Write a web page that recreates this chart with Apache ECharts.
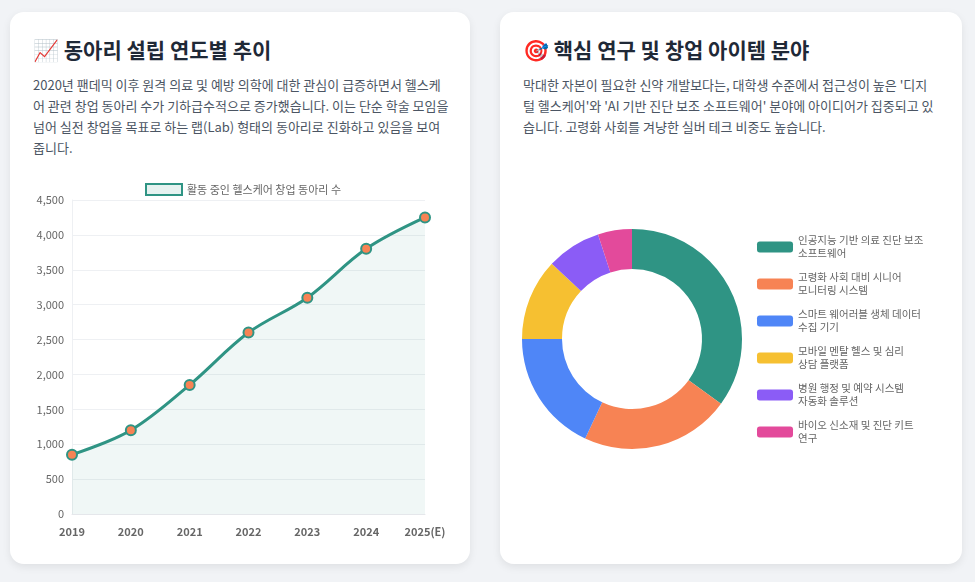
<!DOCTYPE html>
<html><head><meta charset="utf-8">
<script src="https://cdn.jsdelivr.net/npm/echarts@6/dist/echarts.min.js"></script>
<style>
body{margin:0;width:975px;height:582px;background:#f1f3f6;font-family:"Noto Sans CJK KR","Noto Sans",sans-serif;position:relative;overflow:hidden}
.card{position:absolute;background:#fff;border-radius:14px;box-shadow:0 3px 8px rgba(0,0,0,0.08)}
h2{position:absolute;margin:0;font-size:21px;font-weight:700;color:#1f2937}
p{position:absolute;margin:0;font-size:13px;line-height:21px;color:#4b5563;word-break:break-all}
#c{position:absolute;left:0;top:0;width:975px;height:582px}
</style></head><body>
<div class="card" style="left:10px;top:12px;width:460px;height:552px"></div>
<div class="card" style="left:500px;top:12px;width:462px;height:552px"></div>
<h2 style="left:33px;top:34px">📈 동아리 설립 연도별 추이</h2>
<p style="left:33px;top:74px;width:418px">2020년 팬데믹 이후 원격 의료 및 예방 의학에 대한 관심이 급증하면서 헬스케어 관련 창업 동아리 수가 기하급수적으로 증가했습니다. 이는 단순 학술 모임을 넘어 실전 창업을 목표로 하는 랩(Lab) 형태의 동아리로 진화하고 있음을 보여줍니다.</p>
<h2 style="left:523px;top:34px">🎯 핵심 연구 및 창업 아이템 분야</h2>
<p style="left:523px;top:74px;width:416px">막대한 자본이 필요한 신약 개발보다는, 대학생 수준에서 접근성이 높은 '디지털 헬스케어'와 'AI 기반 진단 보조 소프트웨어' 분야에 아이디어가 집중되고 있습니다. 고령화 사회를 겨냥한 실버 테크 비중도 높습니다.</p>
<div id="c"></div>
<script>
const years=['2019','2020','2021','2022','2023','2024','2025(E)'];
const clubs=[850,1200,1850,2600,3100,3800,4250];
const fields=['인공지능 기반 의료 진단 보조\n소프트웨어','고령화 사회 대비 시니어\n모니터링 시스템','스마트 웨어러블 생체 데이터\n수집 기기','모바일 멘탈 헬스 및 심리\n상담 플랫폼','병원 행정 및 예약 시스템\n자동화 솔루션','바이오 신소재 및 진단 키트\n연구'];
const shares=[35,22,18,12,8,5];
const colors=['#2f9484','#f78354','#4f86f7','#f6c031','#8b5cf6','#e34a9b'];
const ch=echarts.init(document.getElementById('c'));
ch.setOption({
 textStyle:{fontFamily:'"Noto Sans CJK KR",sans-serif'},
 legend:[{data:['활동 중인 헬스케어 창업 동아리 수'],icon:'rect',left:140,top:178,itemWidth:36,itemHeight:11,textStyle:{color:'#666',fontSize:11},itemStyle:{color:'#e6f2f0',borderColor:'#2f9484',borderWidth:2}},
  {data:fields,orient:'vertical',left:752,top:229,itemWidth:36,itemHeight:11,itemGap:11,textStyle:{color:'#666',fontSize:10.5,lineHeight:13},itemStyle:{borderWidth:0}}],
 grid:{left:72,top:200,width:353,height:314},
 xAxis:{type:'category',data:years,boundaryGap:false,axisLine:{lineStyle:{color:'#e5e7eb'}},axisTick:{show:false},axisLabel:{color:'#666',fontSize:11,fontWeight:'bold',margin:12},splitLine:{show:false}},
 yAxis:{type:'value',min:0,max:4500,interval:500,axisLabel:{color:'#666',fontSize:11,formatter:v=>v.toLocaleString('en-US')},axisLine:{show:true,lineStyle:{color:'#eef0f3'}},splitLine:{lineStyle:{color:'#eef0f3'}}},
 series:[{name:'활동 중인 헬스케어 창업 동아리 수',type:'line',data:clubs,smooth:0.35,symbol:'circle',symbolSize:10,lineStyle:{color:'#2f9484',width:3},itemStyle:{color:'#f78354',borderColor:'#2f9484',borderWidth:2},areaStyle:{color:'rgba(47,148,132,0.1)'}},
  {type:'pie',center:[632,339],radius:[70,110],startAngle:90,label:{show:false},itemStyle:{borderColor:'#fff',borderWidth:0},
   data:fields.map((f,i)=>({name:f,value:shares[i],itemStyle:{color:colors[i]}}))}]
});
</script></body></html>
